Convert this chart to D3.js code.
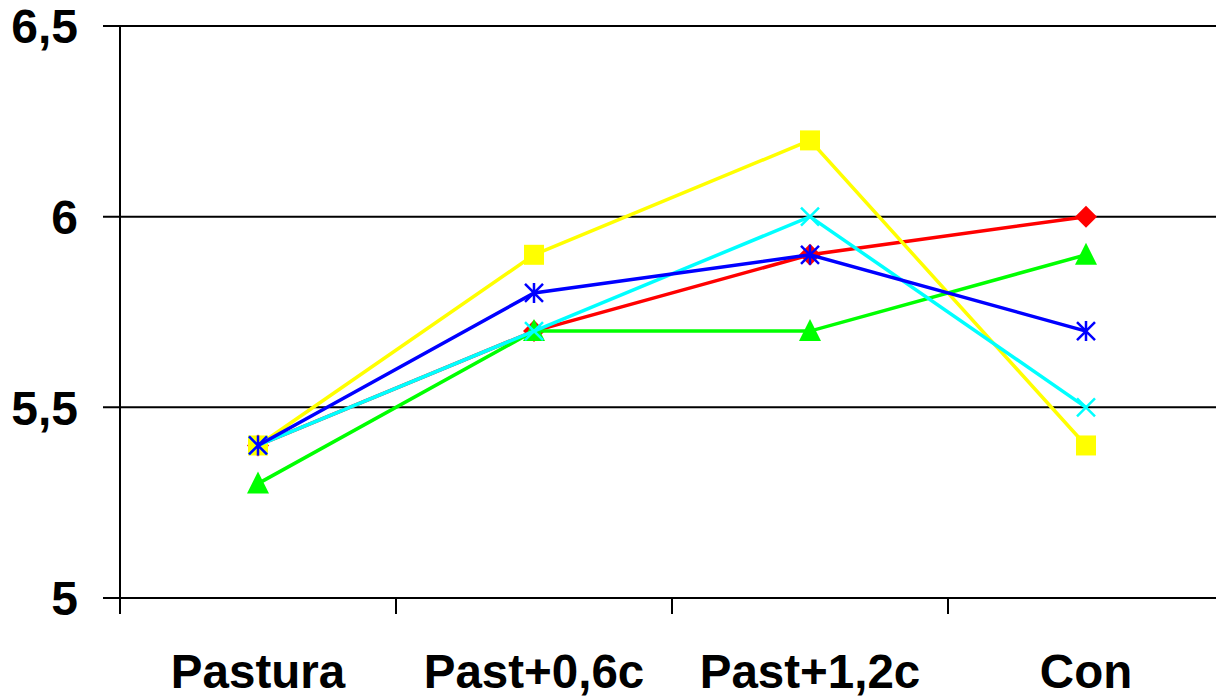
<!DOCTYPE html>
<html>
<head>
<meta charset="utf-8">
<script src="https://cdn.jsdelivr.net/npm/d3@7"></script>
<style>
  body { margin: 0; background: #fff; }
  text { font-family: "Liberation Sans", Arial, sans-serif; font-weight: bold; fill: #000; }
</style>
</head>
<body>
<script>
// data
var categories = ['Pastura', 'Past+0,6c', 'Past+1,2c', 'Con'];
var redValues = [5.4, 5.7, 5.9, 6.0];
var yellowValues = [5.4, 5.9, 6.2, 5.4];
var greenValues = [5.3, 5.7, 5.7, 5.9];
var cyanValues = [5.4, 5.7, 6.0, 5.5];
var blueValues = [5.4, 5.8, 5.9, 5.7];
var yTicks = [5, 5.5, 6, 6.5];

var width = 1216, height = 697;

var series = [
    { values: redValues, color: '#ff0000', marker: 'diamond' },
    { values: yellowValues, color: '#ffff00', marker: 'square' },
    { values: greenValues, color: '#00ff00', marker: 'triangle' },
    { values: cyanValues, color: '#00ffff', marker: 'cross' },
    { values: blueValues, color: '#0000ff', marker: 'asterisk' }
];

var svg = d3.select('body').append('svg')
    .attr('width', width)
    .attr('height', height);

var x = d3.scaleBand().domain(categories).range([120, 1224]).padding(0);
var y = d3.scaleLinear().domain([5, 6.5]).range([598, 26]);

// gridlines + y ticks
svg.selectAll('.grid')
    .data(yTicks)
    .enter().append('line')
    .attr('x1', 103).attr('x2', width)
    .attr('y1', function (d) { return y(d); })
    .attr('y2', function (d) { return y(d); })
    .attr('stroke', '#000').attr('stroke-width', 2);

// y axis line
svg.append('line')
    .attr('x1', 120).attr('x2', 120)
    .attr('y1', y(6.5)).attr('y2', y(5) + 16)
    .attr('stroke', '#000').attr('stroke-width', 2);

// x ticks between categories
svg.selectAll('.xtick')
    .data(categories.slice(1))
    .enter().append('line')
    .attr('x1', function (d) { return x(d); })
    .attr('x2', function (d) { return x(d); })
    .attr('y1', y(5)).attr('y2', y(5) + 16)
    .attr('stroke', '#000').attr('stroke-width', 2);

// y labels
svg.selectAll('.ylab')
    .data(yTicks)
    .enter().append('text')
    .attr('x', 78)
    .attr('y', function (d) { return y(d); })
    .attr('dy', '0.36em')
    .style('text-anchor', 'end')
    .style('font-size', '48px')
    .text(function (d) { return String(d).replace('.', ','); });

// x labels
svg.selectAll('.xlab')
    .data(categories)
    .enter().append('text')
    .attr('x', function (d) { return x(d) + x.bandwidth() / 2; })
    .attr('y', 688)
    .style('text-anchor', 'middle')
    .style('font-size', '47.5px')
    .text(function (d) { return d; });

var line = d3.line()
    .x(function (d, i) { return x(categories[i]) + x.bandwidth() / 2; })
    .y(function (d) { return y(d); });

series.forEach(function (s) {
    var g = svg.append('g');
    g.append('path')
        .attr('d', line(s.values))
        .attr('fill', 'none')
        .attr('stroke', s.color)
        .attr('stroke-width', 3.5);

    var pts = g.selectAll('.pt')
        .data(s.values)
        .enter().append('g')
        .attr('transform', function (d, i) {
            return 'translate(' + (x(categories[i]) + x.bandwidth() / 2) + ',' + y(d) + ')';
        });

    if (s.marker === 'diamond') {
        pts.append('path').attr('d', 'M0,-11L11,0L0,11L-11,0Z').attr('fill', s.color);
    } else if (s.marker === 'square') {
        pts.append('rect').attr('x', -10).attr('y', -10).attr('width', 20).attr('height', 20).attr('fill', s.color);
    } else if (s.marker === 'triangle') {
        pts.append('path').attr('d', 'M0,-12L11,10L-11,10Z').attr('fill', s.color);
    } else if (s.marker === 'cross') {
        pts.append('path').attr('d', 'M-9,-9L9,9M-9,9L9,-9').attr('stroke', s.color).attr('stroke-width', 2.5);
    } else if (s.marker === 'asterisk') {
        pts.append('path').attr('d', 'M-9,-9L9,9M-9,9L9,-9M0,-10L0,10').attr('stroke', s.color).attr('stroke-width', 2.5);
    }
});
</script>
</body>
</html>
